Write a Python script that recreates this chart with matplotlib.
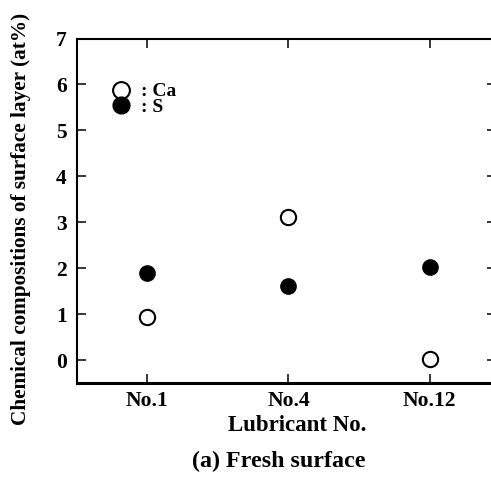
import matplotlib.pyplot as plt

lubricants = ["No.1", "No.4", "No.12"]
ca_values = [0.94, 3.12, 0.02]
s_values = [1.90, 1.62, 2.03]
y_ticks = [0, 1, 2, 3, 4, 5, 6, 7]

plt.rcParams['font.family'] = ['Liberation Serif', 'DejaVu Serif']
plt.rcParams['font.weight'] = 'bold'

fig = plt.figure(figsize=(4.91, 4.79), dpi=100)
ax = fig.add_axes([0.156, 0.2004, 0.854, 0.7192])

x = list(range(len(lubricants)))
ca_line, = ax.plot(x, ca_values, 'o', ms=11, mfc='white', mec='black', mew=1.5, ls='none')
s_line, = ax.plot(x, s_values, 'o', ms=11, mfc='black', mec='black', ls='none')

ax.set_xlim(-0.5, 2.47)
ax.set_ylim(-0.5, 7.0)
ax.set_xticks(x)
ax.set_xticklabels(lubricants)
ax.set_yticks(y_ticks)

for s in ax.spines.values():
    s.set_linewidth(1.5)
ax.spines['bottom'].set_linewidth(2.2)

ax.tick_params(direction='in', top=True, right=True, length=6.5, width=1.1,
               labelsize=15.5, pad=7)
ax.tick_params(axis='x', labelsize=15.5, pad=6)

ax.set_ylabel('Chemical compositions of surface layer (at%)', fontsize=15.3,
              fontweight='bold')
ax.yaxis.set_label_coords(-0.109, 0.476)
ax.set_xlabel('Lubricant No.', fontsize=16.5, fontweight='bold')
ax.xaxis.set_label_coords(0.526, -0.093)

# legend: one small legend per entry so the rows can sit close together
leg1 = ax.legend([ca_line], [': Ca'], loc='center left', frameon=False, fontsize=14,
                 handlelength=1.0, handletextpad=0.55, borderpad=0, borderaxespad=0,
                 bbox_to_anchor=(0.0825, 0.846), markerscale=1.1)
ax.add_artist(leg1)
ax.legend([s_line], [': S'], loc='center left', frameon=False, fontsize=14,
          handlelength=1.0, handletextpad=0.55, borderpad=0, borderaxespad=0,
          bbox_to_anchor=(0.0825, 0.801), markerscale=1.1)

fig.text(0.568, 0.025, '(a) Fresh surface', ha='center', va='baseline',
         fontsize=17.3, fontweight='bold')

plt.savefig('out.png', dpi=100)
